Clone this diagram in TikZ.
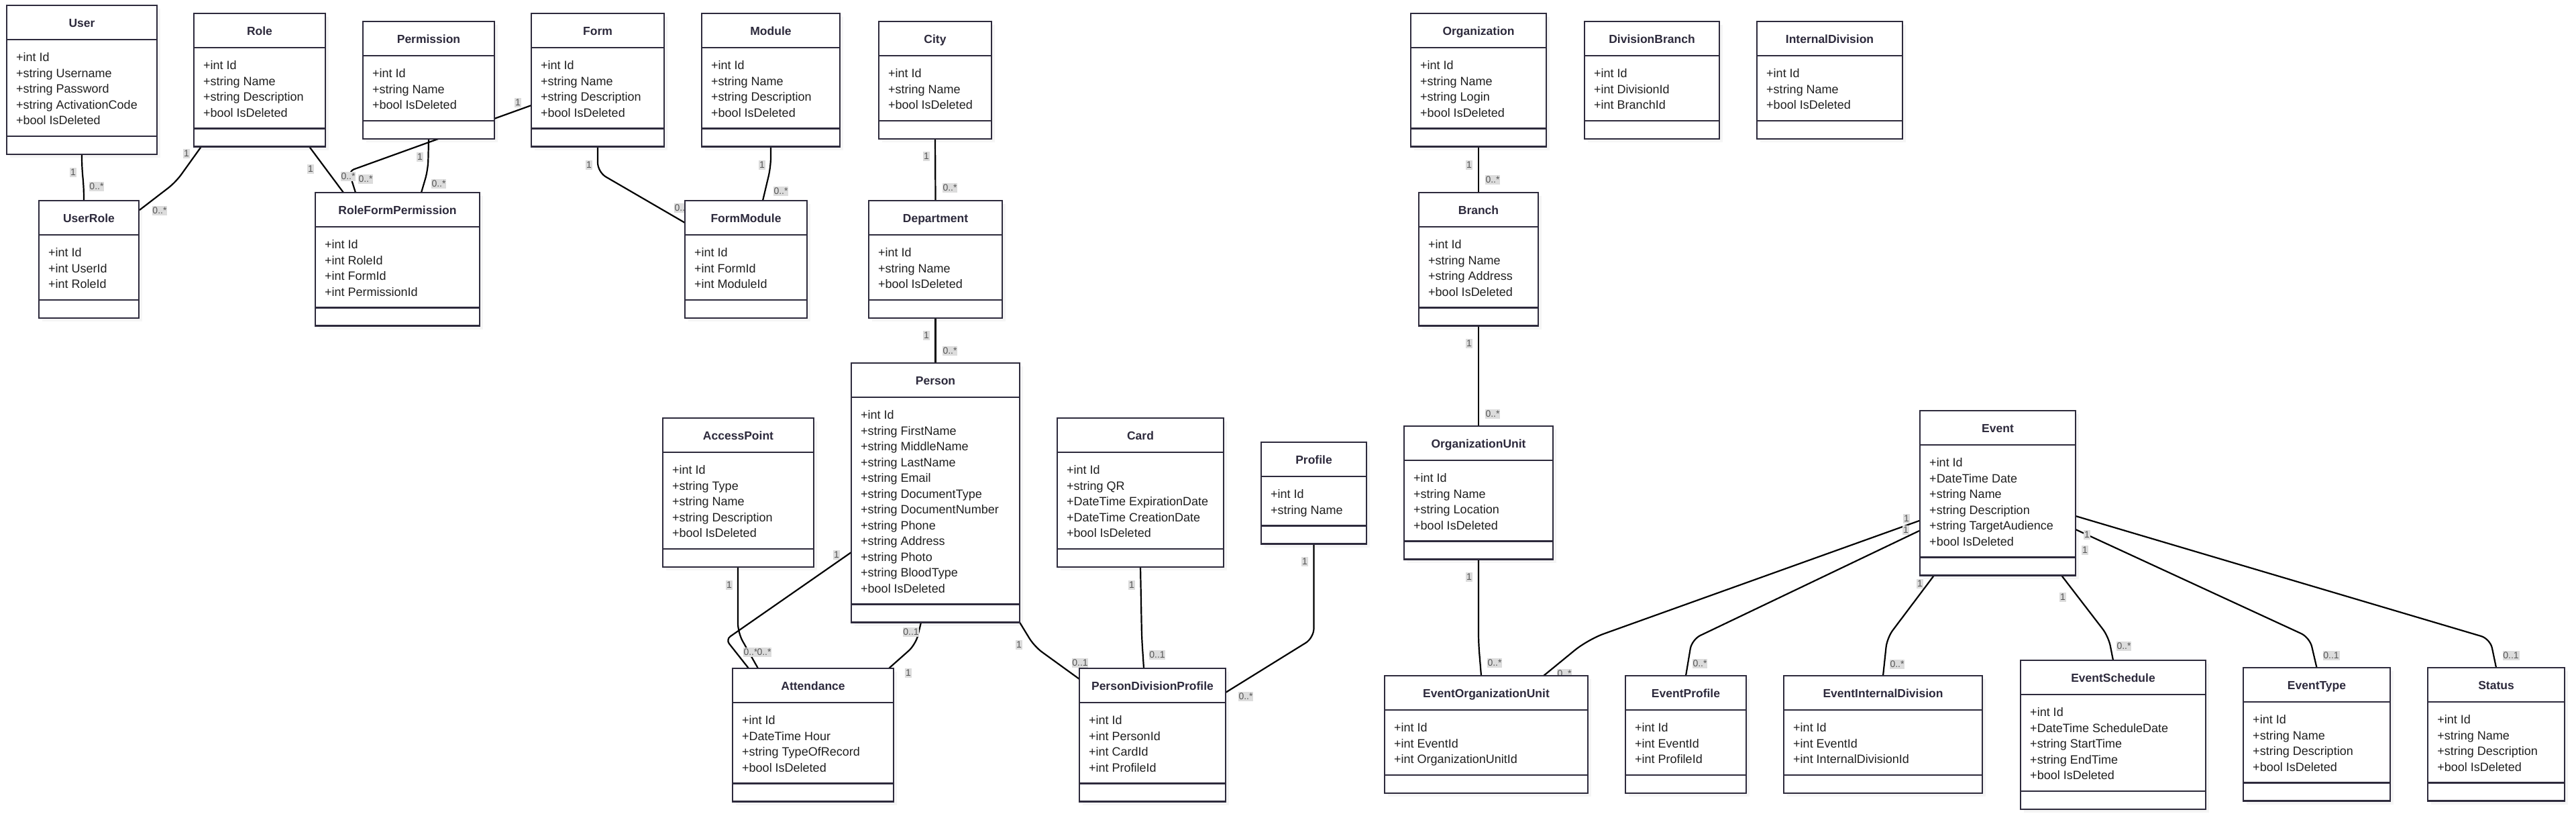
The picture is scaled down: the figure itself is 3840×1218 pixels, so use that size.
\documentclass[tikz,border=0pt]{standalone}
\usepackage{fontspec}
\setmainfont{Liberation Sans}
\usetikzlibrary{calc}
\definecolor{boxline}{HTML}{2D2A3C}
\definecolor{lblfill}{HTML}{DCDCDC}
\definecolor{lbltext}{HTML}{555555}
\pgfdeclarelayer{shadow}
\pgfdeclarelayer{bg}
\pgfsetlayers{shadow,bg,main}
% #1 name, #2 x0, #3 y0, #4 x1, #5 number of attributes, #6 title, #7 attributes
\newcommand\umlclass[7]{%
  \pgfmathsetmacro\cya{#3+51}%
  \pgfmathsetmacro\cyb{#3+51+23.5*#5+26.5}%
  \pgfmathsetmacro\cyc{\cyb+27}%
  \pgfmathsetmacro\cbw{#4-#2}%
  \pgfmathsetmacro\cbh{\cyc-#3}%
  \begin{pgfonlayer}{shadow}
    \fill[shadowbox] (#2+5,#3+5) rectangle (#4+5,\cyc+5);
  \end{pgfonlayer}
  \node[classbox, anchor=north west, minimum width=\cbw pt, minimum height=\cbh pt] (#1) at (#2,#3) {};
  \draw[sepline] (#2,\cya) -- (#4,\cya);
  \draw[sepline] (#2,\cyb) -- (#4,\cyb);
  \node[titletext] (#1-t) at ({(#2+#4)/2},{#3+26}) {#6};
  \foreach \atxt [count=\ai] in {#7} {
    \node[attrtext] (#1-a\ai) at (#2+14,{\cya+32.5+23.5*(\ai-1)}) {\atxt};
  }
}
\newcommand\lbl[4]{\node[lblstyle] (#1) at (#2,#3) {#4};}
\begin{document}
\begin{tikzpicture}[x=1pt,y=-1pt,
  classbox/.style={draw=boxline, line width=2.8pt, fill=white, inner sep=0pt, outer sep=0pt, rectangle},
  sepline/.style={draw=boxline, line width=2.4pt},
  shadowbox/.style={fill=black!4},
  titletext/.style={font=\fontsize{17.5}{20}\selectfont\bfseries, text=boxline, inner sep=0pt, text height=12.5pt, text depth=0pt},
  attrtext/.style={font=\fontsize{18}{22}\selectfont, text=black!88, inner sep=0pt, anchor=base west},
  conn/.style={draw=black, line width=2.2pt, rounded corners=14pt},
  lblstyle/.style={fill=lblfill, text=lbltext, font=\fontsize{14}{16}\selectfont, inner sep=0.8pt, text height=10.5pt, text depth=1.5pt}
]
\begin{pgfonlayer}{shadow}
  \fill[white] (0,0) rectangle (3840,1218);
\end{pgfonlayer}
\useasboundingbox (0,0) rectangle (3840,1218);

% ---- classes ----
\umlclass{user}{10}{8}{234}{5}{User}{+int Id,+string Username,+string Password,+string ActivationCode,+bool IsDeleted}
\umlclass{role}{289}{20}{485}{4}{Role}{+int Id,+string Name,+string Description,+bool IsDeleted}
\umlclass{permission}{541}{32}{737}{3}{Permission}{+int Id,+string Name,+bool IsDeleted}
\umlclass{form}{792}{20}{990}{4}{Form}{+int Id,+string Name,+string Description,+bool IsDeleted}
\umlclass{module}{1046}{20}{1252}{4}{Module}{+int Id,+string Name,+string Description,+bool IsDeleted}
\umlclass{city}{1310}{32}{1478}{3}{City}{+int Id,+string Name,+bool IsDeleted}
\umlclass{organization}{2103}{20}{2305}{4}{Organization}{+int Id,+string Name,+string Login,+bool IsDeleted}
\umlclass{divisionbranch}{2362}{32}{2563}{3}{DivisionBranch}{+int Id,+int DivisionId,+int BranchId}
\umlclass{internaldivision}{2619}{32}{2836}{3}{InternalDivision}{+int Id,+string Name,+bool IsDeleted}
\umlclass{userrole}{58}{299}{207}{3}{UserRole}{+int Id,+int UserId,+int RoleId}
\umlclass{rfp}{470}{287}{715}{4}{RoleFormPermission}{+int Id,+int RoleId,+int FormId,+int PermissionId}
\umlclass{formmodule}{1021}{299}{1203}{3}{FormModule}{+int Id,+int FormId,+int ModuleId}
\umlclass{department}{1295}{299}{1494}{3}{Department}{+int Id,+string Name,+bool IsDeleted}
\umlclass{branch}{2115}{287}{2293}{4}{Branch}{+int Id,+string Name,+string Address,+bool IsDeleted}
\umlclass{person}{1269}{541}{1520}{12}{Person}{+int Id,+string FirstName,+string MiddleName,+string LastName,+string Email,+string DocumentType,+string DocumentNumber,+string Phone,+string Address,+string Photo,+string BloodType,+bool IsDeleted}
\umlclass{accesspoint}{988}{623}{1213}{5}{AccessPoint}{+int Id,+string Type,+string Name,+string Description,+bool IsDeleted}
\umlclass{card}{1576}{623}{1824}{5}{Card}{+int Id,+string QR,+DateTime ExpirationDate,+DateTime CreationDate,+bool IsDeleted}
\umlclass{profile}{1880}{659}{2037}{2}{Profile}{+int Id,+string Name}
\umlclass{orgunit}{2093}{635}{2315}{4}{OrganizationUnit}{+int Id,+string Name,+string Location,+bool IsDeleted}
\umlclass{event}{2862}{612}{3094}{6}{Event}{+int Id,+DateTime Date,+string Name,+string Description,+string TargetAudience,+bool IsDeleted}
\umlclass{attendance}{1092}{996}{1332}{4}{Attendance}{+int Id,+DateTime Hour,+string TypeOfRecord,+bool IsDeleted}
\umlclass{pdp}{1609}{996}{1827}{4}{PersonDivisionProfile}{+int Id,+int PersonId,+int CardId,+int ProfileId}
\umlclass{eou}{2064}{1007}{2367}{3}{EventOrganizationUnit}{+int Id,+int EventId,+int OrganizationUnitId}
\umlclass{eventprofile}{2423}{1007}{2603}{3}{EventProfile}{+int Id,+int EventId,+int ProfileId}
\umlclass{eid}{2659}{1007}{2955}{3}{EventInternalDivision}{+int Id,+int EventId,+int InternalDivisionId}
\umlclass{eventschedule}{3012}{984}{3288}{5}{EventSchedule}{+int Id,+DateTime ScheduleDate,+string StartTime,+string EndTime,+bool IsDeleted}
\umlclass{eventtype}{3344}{995}{3563}{4}{EventType}{+int Id,+string Name,+string Description,+bool IsDeleted}
\umlclass{status}{3619}{995}{3823}{4}{Status}{+int Id,+string Name,+string Description,+bool IsDeleted}

% ---- connectors and multiplicities (under the boxes) ----
\begin{pgfonlayer}{bg}
\draw[conn] (user.south) .. controls +(0,35) and +(0,-35) .. ($(userrole.north west)+(67,0)$);
\draw[conn] ($(role.south west)+(11,0)$) -- ++(-38,53) -- ($(userrole.north east)+(1,14)$);
\draw[conn] ($(role.south west)+(172,0)$) -- ($(rfp.north west)+(42,0)$);
\draw[conn, rounded corners=8pt] ($(form.north west)+(0,137)$) -- ++(-272,98) -- ($(rfp.north west)+(60,0)$);
\draw[conn] ($(permission.south west)+(98,0)$) -- ++(-1,46) -- ($(rfp.north west)+(158,0)$);
\draw[conn] (form.south) -- ++(0,38) -- ($(formmodule.north west)+(0,33)$);
\draw[conn] (module.south) -- ++(0,30) -- ($(formmodule.north west)+(116,0)$);
\draw[conn] (city.south) -- (department.north);
\draw[conn] (department.south) -- (person.north);
\draw[conn] (organization.south) -- (branch.north);
\draw[conn] (branch.south) -- (orgunit.north);
\draw[conn] (orgunit.south) -- ++(0,125) -- ($(eou.north west)+(144,0)$);
\draw[conn] ($(accesspoint.south west)+(112,0)$) -- ++(0,98) -- ($(attendance.north west)+(38,0)$);
\draw[conn, rounded corners=8pt] ($(person.north west)+(0,282)$) -- ++(-187,130) -- ($(attendance.north west)+(24,0)$);
\draw[conn] ($(person.south west)+(104,0)$) -- ++(-8,33) -- ($(attendance.north east)+(-7,0)$);
\draw[conn] (person.south east) -- ++(22,36) -- ($(pdp.north west)+(0,16)$);
\draw[conn] ($(card.south west)+(124,0)$) -- ++(2,105) -- ($(pdp.north west)+(96,0)$);
\draw[conn] (profile.south) -- ++(0,140) -- ($(pdp.north east)+(0,36)$);
\draw[conn, rounded corners=25pt] ($(event.north west)+(-1,164)$) -- ++(-494,177) -- ($(eou.north east)+(-66,0)$);
\draw[conn] ($(event.north west)+(-1,179)$) -- ++(-339,162) -- (eventprofile.north);
\draw[conn] ($(event.south west)+(21,0)$) -- ++(-70,93) -- (eid.north);
\draw[conn] ($(event.south west)+(211,0)$) -- ++(70,91) -- (eventschedule.north);
\draw[conn] ($(event.north east)+(0,177)$) -- ++(349,161) -- (eventtype.north);
\draw[conn] ($(event.north east)+(0,157)$) -- ++(618,183) -- (status.north);

\lbl{m1a}{109}{257}{1}   \lbl{m1b}{144}{278}{0..*}
\lbl{m2a}{278}{229}{1}   \lbl{m2b}{238}{314}{0..*}
\lbl{m3a}{463}{252}{1}   \lbl{m3b}{545}{267}{0..*}
\lbl{m4a}{772}{153}{1}   \lbl{m4b}{519}{263}{0..*}
\lbl{m5a}{626}{234}{1}   \lbl{m5b}{654}{274}{0..*}
\lbl{m6a}{878}{246}{1}   \lbl{m6b}{1016}{310}{0..*}
\lbl{m7a}{1136}{246}{1}  \lbl{m7b}{1164}{285}{0..*}
\lbl{m8a}{1381}{233}{1}  \lbl{m8b}{1416}{280}{0..*}
\lbl{m9a}{1381}{500}{1}  \lbl{m9b}{1416}{523}{0..*}
\lbl{m10a}{2190}{246}{1} \lbl{m10b}{2225}{268}{0..*}
\lbl{m11a}{2190}{512}{1} \lbl{m11b}{2225}{617}{0..*}
\lbl{m12a}{2190}{860}{1} \lbl{m12b}{2228}{988}{0..*}
\lbl{m13a}{1087}{872}{1} \lbl{m13b}{1119}{972}{0..*}
\lbl{m14a}{1247}{827}{1} \lbl{m14b}{1139}{972}{0..*}
\lbl{m15a}{1358}{942}{0..1} \lbl{m15b}{1354}{1003}{1}
\lbl{m16a}{1519}{961}{1} \lbl{m16b}{1610}{988}{0..1}
\lbl{m17a}{1687}{872}{1} \lbl{m17b}{1725}{976}{0..1}
\lbl{m18a}{1945}{837}{1} \lbl{m18b}{1857}{1038}{0..*}
\lbl{m19a}{2842}{773}{1} \lbl{m19b}{2332}{1004}{0..*}
\lbl{m20a}{2841}{790}{1} \lbl{m20b}{2534}{989}{0..*}
\lbl{m21a}{2862}{870}{1} \lbl{m21b}{2828}{990}{0..*}
\lbl{m22a}{3075}{890}{1} \lbl{m22b}{3166}{963}{0..*}
\lbl{m23a}{3111}{797}{1} \lbl{m23b}{3475}{977}{0..1}
\lbl{m24a}{3108}{820}{1} \lbl{m24b}{3743}{977}{0..1}
\end{pgfonlayer}
\end{tikzpicture}
\end{document}
